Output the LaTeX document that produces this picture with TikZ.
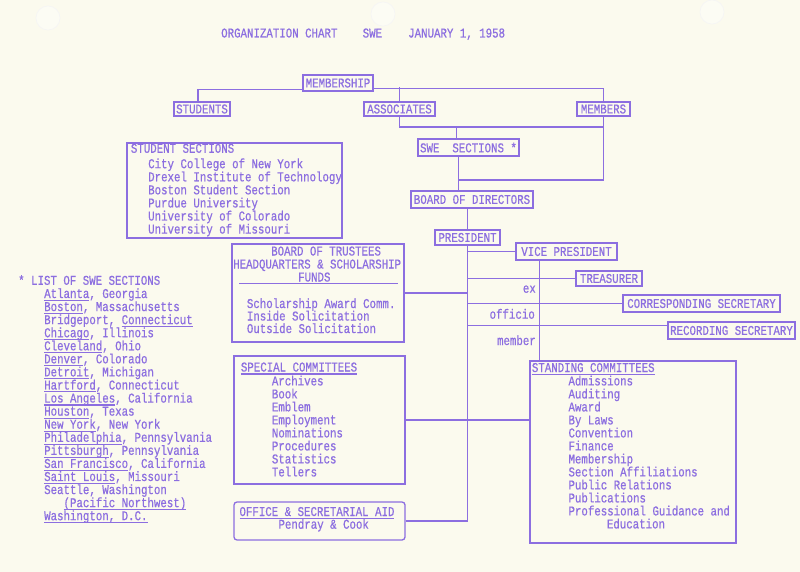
\documentclass[tikz,border=0pt]{standalone}
\usepackage{fontspec}
\newfontfamily\tw[FakeStretch=0.8,FakeBold=0.6]{Liberation Mono}
\usetikzlibrary{calc}
\definecolor{ink}{RGB}{140,110,224}
\definecolor{paper}{RGB}{251,250,238}
\newcommand\uln[1]{\setbox0\hbox{#1}\rlap{\rule[-3pt]{\wd0}{1.1pt}}\box0}
\tikzset{
  every node/.style={font=\tw\fontsize{13.45}{14}\selectfont, text=ink, inner sep=0pt},
  box/.style={draw=ink, line width=1.3pt},
  conn/.style={draw=ink, line width=1.3pt},
  lbl/.style={anchor=base west},
  lble/.style={anchor=base east},
}
\begin{document}
\begin{tikzpicture}[x=1pt,y=-1pt]
\fill[paper] (0,0) rectangle (800,572);
\useasboundingbox (0,0) rectangle (800,572);
% punch holes
\foreach \hx/\hy in {48/18, 383/14, 712/12}
  \draw[black!4, fill=white!35!paper, line width=0.6pt] (\hx,\hy) circle (12);
% title
\node[lbl] (t1) at (221,37.5) {ORGANIZATION CHART};
\node[lbl] (t2) at (362.5,37.5) {SWE};
\node[lbl] (t3) at (408,37.5) {JANUARY 1, 1958};
% single-line boxes
\node[box, minimum width=70, minimum height=16] (mem) at (338,83) {MEMBERSHIP};
\node[box, minimum width=56, minimum height=14] (stu) at (202,109) {STUDENTS};
\node[box, minimum width=71, minimum height=14] (asc) at (399.5,109) {ASSOCIATES};
\node[box, minimum width=53, minimum height=14] (mbr) at (603.5,109) {MEMBERS};
\node[box, minimum width=101, minimum height=17] (swe) at (468.5,147.5) {SWE\ \ SECTIONS *};
\node[box, minimum width=122, minimum height=17] (bod) at (472,199.5) {BOARD OF DIRECTORS};
\node[box, minimum width=65, minimum height=15] (pres) at (467.5,237.5) {PRESIDENT};
\node[box, minimum width=101, minimum height=17] (vp) at (566.5,251.5) {VICE PRESIDENT};
\node[box, minimum width=66, minimum height=15] (tre) at (609,278.5) {TREASURER};
\node[box, minimum width=157, minimum height=17] (cs) at (701.5,303.5) {CORRESPONDING SECRETARY};
\node[box, minimum width=127, minimum height=17] (rs) at (731.5,330.5) {RECORDING SECRETARY};
% large boxes
\node[box, minimum width=215, minimum height=95] (ssb) at (234.5,190.5) {};
\node[box, minimum width=172, minimum height=98] (btb) at (318,293) {};
\node[box, minimum width=171, minimum height=128] (scb) at (319.5,420) {};
\node[box, rounded corners=3pt, minimum width=171, minimum height=38] (oab) at (319.5,521) {};
\node[box, minimum width=206, minimum height=182] (stb) at (633,452) {};
% student sections
\node[lbl] (sst) at (130.7,152.8) {STUDENT SECTIONS};
\foreach \t [count=\i from 0] in {City College of New York, Drexel Institute of Technology, Boston Student Section, Purdue University, University of Colorado, University of Missouri}
  \node[lbl] (ss\i) at (148,{168.2+13.07*\i}) {\t};
% board of trustees
\node[lbl] (bt1) at (271,255.5) {BOARD OF TRUSTEES};
\node[lbl] (bt2) at (233,268.5) {HEADQUARTERS \& SCHOLARSHIP};
\node[lbl] (bt3) at (298,281.5) {FUNDS};
\draw[conn] ($(btb.north west)+(8,40.3)$) -- ($(btb.north east)+(-7,40.3)$);
\foreach \t [count=\i from 0] in {Scholarship Award Comm., Inside Solicitation, Outside Solicitation}
  \node[lbl] (bi\i) at (246.7,{308+12.5*\i}) {\t};
% special committees
\node[lbl] (sct) at (240.7,371.5) {\uln{SPECIAL COMMITTEES}};
\foreach \t [count=\i from 0] in {Archives, Book, Emblem, Employment, Nominations, Procedures, Statistics, Tellers}
  \node[lbl] (sc\i) at (271.7,{385.4+13*\i}) {\t};
% office
\node[lbl] (oat) at (239.3,516) {\uln{OFFICE \& SECRETARIAL AID}};
\node[lbl] (oai) at (278.3,528.7) {Pendray \& Cook};
% standing committees
\node[lbl] (stt) at (531.7,372) {\uln{STANDING COMMITTEES}};
\foreach \t [count=\i from 0] in {Admissions, Auditing, Award, By Laws, Convention, Finance, Membership, Section Affiliations, Public Relations, Publications, Professional Guidance and}
  \node[lbl] (st\i) at (568.3,{385.4+13*\i}) {\t};
\node[lbl] (st11) at (606.7,528.4) {Education};
% list of SWE sections
\node[lbl] (lh) at (18,284.8) {* LIST OF SWE SECTIONS};
\foreach \t [count=\i from 0] in {{\uln{Atlanta}, Georgia}, {\uln{Boston}, Massachusetts}, {Bridgeport, \uln{Connecticut}}, {\uln{Chicago}, Illinois}, {\uln{Cleveland}, Ohio}, {\uln{Denver}, Colorado}, {\uln{Detroit}, Michigan}, {\uln{Hartford}, Connecticut}, {\uln{Los Angeles}, California}, {\uln{Houston}, Texas}, {\uln{New York}, New York}, {\uln{Philadelphia}, Pennsylvania}, {\uln{Pittsburgh}, Pennsylvania}, {\uln{San Francisco}, California}, {\uln{Saint Louis}, Missouri}, {Seattle, Washington}, {\phantom{xxx}\uln{(Pacific Northwest)}}, {\uln{Washington, D.C.}}}
  \node[lbl] (ls\i) at (44,{298+13.07*\i}) {\t};
% connectors
\coordinate (jA) at (mbr.south |- 0,127);
\coordinate (jB) at ([xshift=-10pt]swe.south |- 0,180);
\coordinate (jT) at (pres.south |- oab.east);
\coordinate (rsj) at ([yshift=5pt]rs.west);
\coordinate (vpd) at ([xshift=-27pt]vp.south);
\draw[conn] ([yshift=2pt]mem.south west) -| ([xshift=-4pt]stu.north);
\draw[conn] ([yshift=3pt]mem.south east) -| (mbr.north);
\draw[conn] (asc.north) -- ++(0,-14);
\draw[conn] (asc.south) |- (jA);
\draw[conn] (mbr.south) |- (jB);
\draw[conn] ([xshift=-12pt]swe.north) -- ([xshift=-12pt]swe.north |- jA);
\draw[conn] ([xshift=-10pt]swe.south) -- ([xshift=-10pt]swe.south |- bod.north);
\draw[conn] (bod.south -| pres.north) -- (pres.north);
\draw[conn] (pres.south) -- (jT);
\draw[conn] (oab.east) -- (jT);
\draw[conn] (btb.east) -- (pres.south |- btb.east);
\draw[conn] (scb.east) -- (scb.east -| stb.west);
\draw[conn] (pres.south |- vp.west) -- (vp.west);
\draw[conn] (pres.south |- tre.west) -- (tre.west);
\draw[conn] (pres.south |- cs.west) -- (cs.west);
\draw[conn] (rsj -| pres.south) -- (rsj);
\draw[conn] (vpd) -- (vpd |- stb.north);
\node[lble] (ex) at (536,292.7) {ex};
\node[lble] (of) at (535,318.7) {officio};
\node[lble] (me) at (536,345) {member};
\end{tikzpicture}
\end{document}
